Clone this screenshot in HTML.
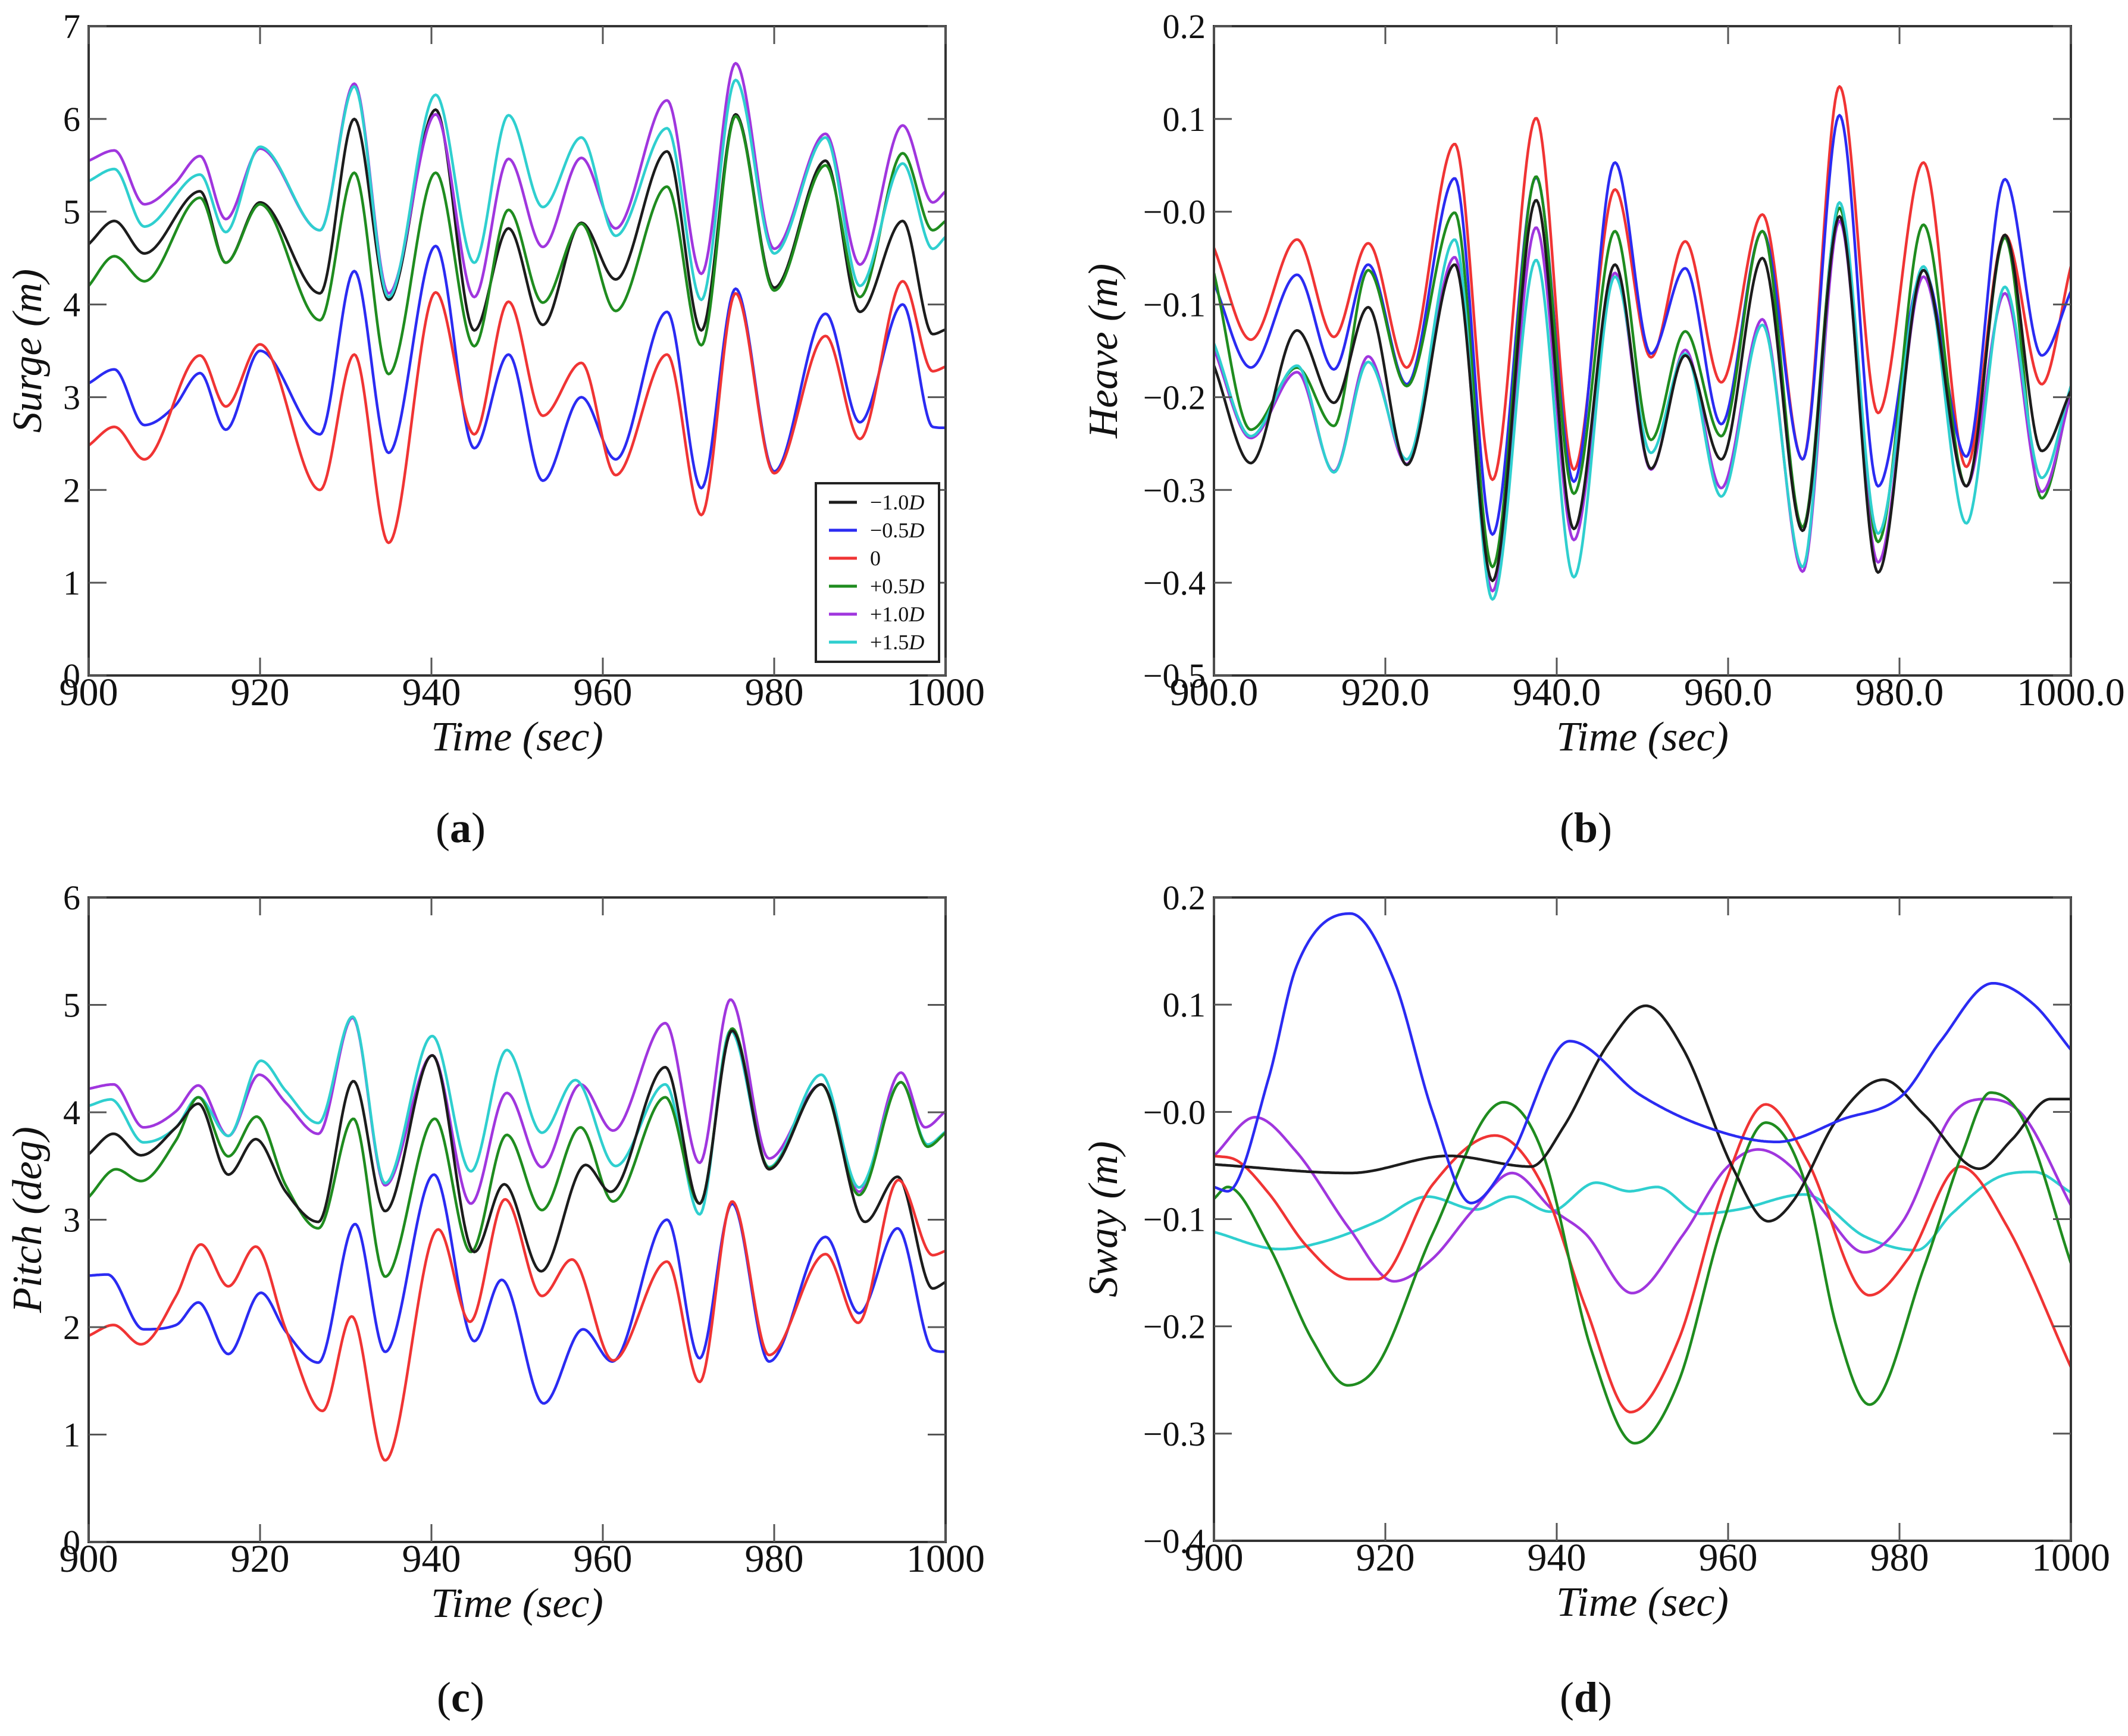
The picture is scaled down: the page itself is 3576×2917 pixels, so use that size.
<!DOCTYPE html>
<html><head><meta charset="utf-8">
<style>
html,body{margin:0;padding:0;background:#fff;}
svg{display:block;}
text{font-family:"Liberation Serif","DejaVu Serif",serif;fill:#111;}
</style></head>
<body>
<svg id="fig" xmlns="http://www.w3.org/2000/svg" width="3576" height="2917" viewBox="0 0 3576 2917"></svg>
<script>
// ---------- Panel (a) Surge ----------
const surgeT = [900,903,906.5,913,916,920,927,931,935,940.5,945,949,953,957.5,961.5,967.5,971.5,975.5,980,986,990,995,998.5,1000];
const surgeT2 = [900,903,906.5,910,913,916,920,927,931,935,940.5,945,949,953,957.5,961.5,967.5,971.5,975.5,980,986,990,995,998.5,1000];
const surgeBlackV = [4.65,4.9,4.55,5.22,4.45,5.1,4.12,6.0,4.05,6.1,3.72,4.82,3.78,4.88,4.27,5.65,3.72,6.05,4.18,5.55,3.92,4.9,3.68,3.73];
const surgeBlueV = [3.15,3.3,2.7,2.9,3.26,2.65,3.5,2.6,4.36,2.4,4.63,2.45,3.46,2.1,3.0,2.33,3.92,2.02,4.17,2.2,3.9,2.73,4.0,2.68,2.67];
const surgeRedV = [2.48,2.68,2.33,3.45,2.9,3.57,2.0,3.46,1.43,4.13,2.6,4.03,2.8,3.37,2.16,3.46,1.73,4.12,2.18,3.66,2.55,4.25,3.28,3.33];
const surgeGreenV = [4.2,4.52,4.25,5.15,4.45,5.08,3.83,5.42,3.25,5.42,3.55,5.02,4.02,4.87,3.93,5.27,3.56,6.03,4.15,5.5,4.08,5.63,4.8,4.9];
const surgePurpleV = [5.55,5.66,5.08,5.3,5.6,4.92,5.68,4.8,6.38,4.12,6.05,4.08,5.57,4.62,5.58,4.82,6.2,4.33,6.6,4.6,5.84,4.43,5.93,5.1,5.22];
const surgeCyanV = [5.33,5.46,4.84,5.4,4.78,5.7,4.8,6.35,4.08,6.26,4.45,6.04,5.05,5.8,4.74,5.9,4.05,6.42,4.55,5.8,4.2,5.52,4.6,4.73];
const surgeYTicks = ["0","1","2","3","4","5","6","7"];
// ---------- Panel (b) Heave ----------
const heaveT = [900,904.3,909.7,914,918,922.5,928.1,932.5,937.6,942,946.8,951,955,959.2,964,968.7,973,977.5,982.8,987.8,992.3,996.6,1000];
const heaveRedV = [-0.039,-0.138,-0.03,-0.135,-0.034,-0.168,0.073,-0.289,0.101,-0.278,0.024,-0.157,-0.032,-0.184,-0.003,-0.267,0.135,-0.217,0.053,-0.275,-0.025,-0.186,-0.059];
const heaveBlueV = [-0.077,-0.168,-0.068,-0.17,-0.057,-0.186,0.036,-0.348,0.037,-0.291,0.053,-0.153,-0.061,-0.229,-0.021,-0.267,0.104,-0.296,-0.063,-0.264,0.035,-0.155,-0.086];
const heaveGreenV = [-0.066,-0.235,-0.168,-0.231,-0.063,-0.188,-0.001,-0.383,0.038,-0.304,-0.021,-0.246,-0.129,-0.242,-0.021,-0.34,0.004,-0.356,-0.014,-0.296,-0.028,-0.309,-0.193];
const heaveBlackV = [-0.166,-0.271,-0.128,-0.206,-0.103,-0.273,-0.057,-0.398,0.0125,-0.342,-0.057,-0.277,-0.155,-0.267,-0.05,-0.344,-0.005,-0.389,-0.063,-0.296,-0.025,-0.258,-0.193];
const heavePurpleV = [-0.148,-0.244,-0.173,-0.28,-0.156,-0.272,-0.049,-0.409,-0.017,-0.354,-0.066,-0.278,-0.149,-0.298,-0.116,-0.388,-0.01,-0.378,-0.07,-0.296,-0.088,-0.302,-0.197];
const heaveCyanV = [-0.142,-0.242,-0.166,-0.281,-0.162,-0.267,-0.03,-0.418,-0.052,-0.394,-0.07,-0.26,-0.153,-0.307,-0.122,-0.383,0.01,-0.347,-0.059,-0.336,-0.081,-0.287,-0.188];
const heaveYTicks = ["\u22120.5","\u22120.4","\u22120.3","\u22120.2","\u22120.1","\u22120.0","0.1","0.2"];
const heaveXTicks = ["900.0","920.0","940.0","960.0","980.0","1000.0"];
// ---------- Panel (c) Pitch ----------
const pitchPurpleT = [900,902.9,906.4,910.2,912.8,916.3,919.9,923,926.8,930.8,934.6,940.1,944.6,948.8,952.9,957.4,961.2,967.3,971.3,974.9,979.4,985.5,989.9,994.8,997.6,1000];
const pitchPurpleV = [4.22,4.26,3.86,4.01,4.25,3.78,4.35,4.09,3.8,4.88,3.32,4.53,3.15,4.18,3.49,4.26,3.83,4.83,3.53,5.05,3.57,4.26,3.26,4.37,3.86,4.01];
const pitchCyanT = [900,902.6,906.4,910.2,912.8,916.3,920.1,923,926.8,930.8,934.6,940.1,944.6,948.8,952.9,956.8,961.5,967.3,971.3,974.9,979.4,985.5,989.9,994.8,997.9,1000];
const pitchCyanV = [4.06,4.12,3.72,3.86,4.14,3.78,4.48,4.2,3.9,4.89,3.34,4.71,3.45,4.58,3.81,4.3,3.5,4.26,3.05,4.76,3.49,4.35,3.3,4.28,3.7,3.82];
const pitchBlackT = [900,902.9,906.1,910.2,912.8,916.3,919.5,923,926.8,930.9,934.6,940.1,945,948.5,952.8,958,960.9,967.3,971.3,975.1,979.4,985.5,990.6,994.4,998.5,1000];
const pitchBlackV = [3.61,3.8,3.6,3.86,4.08,3.42,3.75,3.26,2.98,4.29,3.08,4.53,2.7,3.33,2.52,3.51,3.26,4.42,3.15,4.76,3.47,4.26,2.98,3.4,2.36,2.42];
const pitchGreenT = [900,903.2,906.1,910.2,912.8,916.3,919.6,923,926.8,930.9,934.6,940.4,944.6,948.8,952.9,957.4,961.2,967.3,971.3,975.1,979.4,985.5,989.9,994.8,997.9,1000];
const pitchGreenV = [3.21,3.47,3.36,3.74,4.14,3.59,3.96,3.32,2.92,3.94,2.47,3.94,2.7,3.79,3.09,3.86,3.17,4.14,3.15,4.78,3.48,4.26,3.23,4.28,3.68,3.81];
const pitchBlueT = [900,902.2,906.4,910.2,912.8,916.3,920.1,923,926.8,931.1,934.6,940.3,945,948.2,953.1,957.7,961.1,967.5,971.3,975.1,979.4,986,989.9,994.4,998.5,1000];
const pitchBlueV = [2.48,2.49,1.98,2.02,2.23,1.75,2.32,1.96,1.67,2.96,1.77,3.42,1.87,2.44,1.29,1.98,1.68,3.0,1.71,3.15,1.68,2.84,2.13,2.92,1.79,1.77];
const pitchRedT = [900,902.9,906.1,910.2,913.1,916.3,919.5,923,927.3,930.7,934.6,940.8,944.5,948.6,952.9,956.4,961.2,967.5,971.3,975.1,979.4,986,989.8,994.5,998.5,1000];
const pitchRedV = [1.92,2.02,1.84,2.29,2.77,2.38,2.75,1.98,1.22,2.1,0.76,2.91,2.05,3.19,2.29,2.63,1.69,2.61,1.49,3.17,1.74,2.68,2.04,3.37,2.67,2.71];
const pitchYTicks = ["0","1","2","3","4","5","6"];
// ---------- Panel (d) Sway ----------
const swayBlueT = [900,901.6,906.4,909.6,915.9,921,925.5,930,934.4,941.5,949.7,957.4,965.7,973.3,980.4,984.8,990.9,995.7,1000];
const swayBlueV = [-0.07,-0.074,0.032,0.135,0.185,0.123,0.0,-0.085,-0.045,0.066,0.016,-0.014,-0.028,-0.007,0.016,0.066,0.12,0.1,0.058];
const swayBlackT = [900,915.9,927.4,937,940.8,945.9,950.4,954.8,960.6,964.7,967.6,972.7,978.1,982.9,989.3,993.1,997.6,1000];
const swayBlackV = [-0.049,-0.057,-0.041,-0.051,-0.014,0.062,0.099,0.058,-0.053,-0.102,-0.083,-0.007,0.03,-0.003,-0.053,-0.026,0.012,0.012];
const swayRedT = [900,902.6,906.4,910.8,915.9,919.1,925.5,932.8,938.3,943.4,948.6,954.2,959.6,964.4,969.2,976.5,981,987.1,992.5,1000];
const swayRedV = [-0.041,-0.045,-0.076,-0.125,-0.156,-0.156,-0.068,-0.022,-0.068,-0.183,-0.28,-0.213,-0.068,0.007,-0.045,-0.171,-0.137,-0.051,-0.106,-0.238];
const swayGreenT = [900,901.6,906.4,911.5,915.6,919.1,925.5,933.8,938.3,944,949.1,954.2,959.3,964.4,968.9,972.7,976.5,982.9,987.4,990.6,994.4,1000];
const swayGreenV = [-0.081,-0.07,-0.125,-0.213,-0.255,-0.236,-0.114,0.009,-0.037,-0.221,-0.309,-0.252,-0.106,-0.01,-0.064,-0.202,-0.273,-0.144,-0.037,0.018,-0.007,-0.141];
const swayPurpleT = [900,904.8,909.6,915.9,921,925.5,930.3,934.8,939.5,943.4,948.8,954.8,959.6,963.5,967.6,971.4,975.9,980.4,986.1,990.2,994.4,1000];
const swayPurpleV = [-0.041,-0.005,-0.037,-0.11,-0.158,-0.137,-0.091,-0.057,-0.091,-0.114,-0.169,-0.114,-0.054,-0.035,-0.053,-0.095,-0.131,-0.102,-0.003,0.012,-0.003,-0.087];
const swayCyanT = [900,907.7,912.8,919.1,924.9,930.6,934.8,939.2,944.6,948.5,951.7,956.8,961.2,968.9,975.9,982,986.1,991.8,995.7,1000];
const swayCyanV = [-0.112,-0.128,-0.121,-0.102,-0.079,-0.091,-0.079,-0.093,-0.066,-0.074,-0.07,-0.095,-0.091,-0.077,-0.116,-0.129,-0.095,-0.06,-0.056,-0.075];
const swayYTicks = ["\u22120.4","\u22120.3","\u22120.2","\u22120.1","\u22120.0","0.1","0.2"];
const timeXTicks = ["900","920","940","960","980","1000"];
const legendLabels = ["\u22121.0D","\u22120.5D","0","+0.5D","+1.0D","+1.5D"];

const COL = {k:"#1c1c1c", b:"#2b2bf2", r:"#f03434", g:"#1f8c1f", m:"#a036de", c:"#2fcfcf"};
const NS = "http://www.w3.org/2000/svg";
const svg = document.getElementById("fig");

function mk(tag, attrs, parent){
  const e = document.createElementNS(NS, tag);
  for (const k in attrs) e.setAttribute(k, attrs[k]);
  (parent||svg).appendChild(e);
  return e;
}
function monotone(xs, ys){
  const n = xs.length, d = [], m = [];
  for (let i=0;i<n-1;i++) d.push((ys[i+1]-ys[i])/(xs[i+1]-xs[i]));
  m[0]=d[0]; m[n-1]=d[n-2];
  for (let i=1;i<n-1;i++){ m[i] = (d[i-1]*d[i]<=0) ? 0 : (d[i-1]+d[i])/2; }
  for (let i=0;i<n-1;i++){
    if (d[i]===0){m[i]=0;m[i+1]=0;continue;}
    const a=m[i]/d[i], b=m[i+1]/d[i], s=a*a+b*b;
    if (s>9){const t=3/Math.sqrt(s); m[i]=t*a*d[i]; m[i+1]=t*b*d[i];}
  }
  return function(x){
    let i=0; while(i<n-2 && x>xs[i+1]) i++;
    const h=xs[i+1]-xs[i], t=(x-xs[i])/h, t2=t*t, t3=t2*t;
    return (2*t3-3*t2+1)*ys[i]+(t3-2*t2+t)*h*m[i]+(-2*t3+3*t2)*ys[i+1]+(t3-t2)*h*m[i+1];
  };
}

function panel(cfg){
  const g = mk("g", {});
  
  
  const {x0,x1,y0,y1,ymin,ymax} = cfg;
  const X = t => x0 + (t-900)/100*(x1-x0);
  const Y = v => y1 - (v-ymin)/(ymax-ymin)*(y1-y0);
  const clipId = "clip-"+cfg.name;
  const cp = mk("clipPath", {id:clipId}, g);
  mk("rect", {x:x0, y:y0, width:x1-x0, height:y1-y0}, cp);
  const sg = mk("g", {"clip-path":"url(#"+clipId+")"}, g);
  cfg.series.forEach(s=>{
    const f = monotone(s.t, s.v);
    let d = "";
    const N = 600;
    for (let i=0;i<=N;i++){
      const t = s.t[0] + (s.t[s.t.length-1]-s.t[0])*i/N;
      d += (i?"L":"M") + X(t).toFixed(1) + "," + Y(f(t)).toFixed(1);
    }
    const p = mk("path", {d:d, fill:"none", stroke:s.color, "stroke-width":4.5, "stroke-linejoin":"round"}, sg);
    
    
  });
  const fr = mk("rect", {x:x0, y:y0, width:x1-x0, height:y1-y0, fill:"none", stroke:"#333", "stroke-width":4}, g);
  
  
  const ny = cfg.yTicks.length;
  cfg.yTicks.forEach((lab,i)=>{
    const v = ymin + (ymax-ymin)*i/(ny-1);
    const y = Y(v);
    mk("line",{x1:x0,y1:y,x2:x0+30,y2:y,stroke:"#555","stroke-width":3},g);
    mk("line",{x1:x1,y1:y,x2:x1-30,y2:y,stroke:"#555","stroke-width":3},g);
    const tx = mk("text",{x:x0-14,y:y+20,"text-anchor":"end","font-size":58},g);
    tx.textContent = lab;
    
    
  });
  const nx = cfg.xTicks.length;
  cfg.xTicks.forEach((lab,i)=>{
    const x = X(900 + 100*i/(nx-1));
    mk("line",{x1:x,y1:y1,x2:x,y2:y1-30,stroke:"#555","stroke-width":3},g);
    mk("line",{x1:x,y1:y0,x2:x,y2:y0+30,stroke:"#555","stroke-width":3},g);
    const tx = mk("text",{x:x,y:y1+50,"text-anchor":"middle","font-size":66},g);
    tx.textContent = lab;
    
    
  });
  const xt = mk("text",{x:(x0+x1)/2,y:y1+126,"text-anchor":"middle","font-size":70,"font-style":"italic"},g);
  xt.textContent = "Time (sec)";
  
  
  const yc = (y0+y1)/2, yx = x0 - cfg.ytOff;
  const yt = mk("text",{x:yx,y:yc,"text-anchor":"middle","font-size":70,"font-style":"italic",transform:"rotate(-90 "+yx+" "+yc+")"},g);
  yt.textContent = cfg.yTitle;
  
  
  const pl = mk("text",{x:(x0+x1)/2 - 95,y:cfg.labY,"text-anchor":"middle","font-size":72},g);
  pl.innerHTML = '(<tspan font-weight="bold">'+cfg.letter+'</tspan>)';
  
  
  return {g,X,Y};
}

function S(name,color,t,v){return {name,color,t,v};}

const A = panel({name:"surge-panel", x0:149,x1:1589,y0:44,y1:1135, ymin:0,ymax:7, yTicks:surgeYTicks, xTicks:timeXTicks, yTitle:"Surge (m)", ytOff:80, letter:"a", labY:1415,
  series:[S("surge-minus-1.0D",COL.k,surgeT,surgeBlackV),S("surge-minus-0.5D",COL.b,surgeT2,surgeBlueV),S("surge-0",COL.r,surgeT,surgeRedV),
          S("surge-plus-0.5D",COL.g,surgeT,surgeGreenV),S("surge-plus-1.0D",COL.m,surgeT2,surgePurpleV),S("surge-plus-1.5D",COL.c,surgeT,surgeCyanV)]});
panel({name:"heave-panel", x0:2040,x1:3480,y0:44,y1:1135, ymin:-0.5,ymax:0.2, yTicks:heaveYTicks, xTicks:heaveXTicks, yTitle:"Heave (m)", ytOff:163, letter:"b", labY:1415,
  series:[S("heave-0",COL.r,heaveT,heaveRedV),S("heave-minus-0.5D",COL.b,heaveT,heaveBlueV),S("heave-plus-0.5D",COL.g,heaveT,heaveGreenV),
          S("heave-plus-1.0D",COL.m,heaveT,heavePurpleV),S("heave-plus-1.5D",COL.c,heaveT,heaveCyanV),S("heave-minus-1.0D",COL.k,heaveT,heaveBlackV)]});
panel({name:"pitch-panel", x0:149,x1:1589,y0:1508,y1:2591, ymin:0,ymax:6, yTicks:pitchYTicks, xTicks:timeXTicks, yTitle:"Pitch (deg)", ytOff:80, letter:"c", labY:2876,
  series:[S("pitch-plus-1.0D",COL.m,pitchPurpleT,pitchPurpleV),S("pitch-plus-1.5D",COL.c,pitchCyanT,pitchCyanV),S("pitch-plus-0.5D",COL.g,pitchGreenT,pitchGreenV),
          S("pitch-minus-1.0D",COL.k,pitchBlackT,pitchBlackV),S("pitch-minus-0.5D",COL.b,pitchBlueT,pitchBlueV),S("pitch-0",COL.r,pitchRedT,pitchRedV)]});
panel({name:"sway-panel", x0:2040,x1:3480,y0:1508,y1:2589, ymin:-0.4,ymax:0.2, yTicks:swayYTicks, xTicks:timeXTicks, yTitle:"Sway (m)", ytOff:163, letter:"d", labY:2876,
  series:[S("sway-plus-1.5D",COL.c,swayCyanT,swayCyanV),S("sway-plus-1.0D",COL.m,swayPurpleT,swayPurpleV),S("sway-0",COL.r,swayRedT,swayRedV),
          S("sway-plus-0.5D",COL.g,swayGreenT,swayGreenV),S("sway-minus-1.0D",COL.k,swayBlackT,swayBlackV),S("sway-minus-0.5D",COL.b,swayBlueT,swayBlueV)]});

const lg = mk("g",{},A.g);


const lbox = mk("rect",{x:1371,y:812,width:207,height:300,fill:"#fff",stroke:"#222","stroke-width":4},lg);


const legCols = [COL.k,COL.b,COL.r,COL.g,COL.m,COL.c];
legendLabels.forEach((lab,i)=>{
  const y = 844 + i*47;
  const ln = mk("line",{x1:1393,y1:y,x2:1440,y2:y,stroke:legCols[i],"stroke-width":5},lg);
  
  
  const tx = mk("text",{x:1462,y:y+12,"font-size":36},lg);
  if (lab.endsWith("D")) tx.innerHTML = lab.slice(0,-1) + '<tspan font-style="italic">D</tspan>';
  else tx.textContent = lab;
  
  
});
</script>
</body></html>
